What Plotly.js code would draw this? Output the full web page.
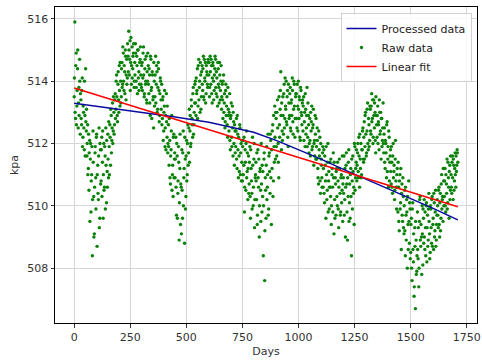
<!DOCTYPE html>
<html>
<head>
<meta charset="utf-8">
<script src="https://cdn.plot.ly/plotly-3.0.1.min.js"></script>
<style>html,body{margin:0;padding:0;background:#fff;}#chart{width:482px;height:360px;}</style>
</head>
<body>
<div id="chart"></div>
<script>
// Raw data in two interleaved passes:
// pass A = days 0,3,6,...  pass B = days 1,4,7,...
const rawStartDayA = 0;
const rawStartDayB = 1;
const rawStepDays = 3;
const rawKpaA = [
513.5,515.9,512.8,514.9,513.2,514.4,512.5,513.8,514.7,512.3,
513.4,512.6,514.1,512.2,513.0,511.8,512.9,514.4,512.4,511.6,
512.6,511.2,510.5,512.1,511.5,509.8,511.0,508.4,512.4,510.3,
509.1,511.7,510.9,512.2,508.7,511.3,510.2,512.5,509.6,511.8,
510.8,512.2,511.4,509.6,512.0,510.6,511.6,512.5,510.1,511.1,
512.3,510.9,511.9,512.6,511.3,512.9,512.1,513.3,512.4,513.0,
512.6,513.6,513.1,514.2,512.9,513.9,513.4,514.5,513.2,514.0,
513.5,514.6,513.9,514.9,513.7,514.3,515.0,513.4,514.7,514.1,
514.8,515.6,514.2,515.3,514.6,513.9,515.1,514.4,514.9,513.8,
514.6,515.2,514.0,514.8,513.6,515.0,514.3,513.9,514.7,514.2,
513.8,514.6,514.1,515.1,513.5,514.4,513.9,514.8,513.3,514.0,
514.5,513.6,514.2,512.9,514.7,513.8,514.3,513.4,512.5,514.0,
513.5,514.8,513.9,514.3,513.1,514.6,513.7,512.9,514.1,513.4,
513.9,512.8,513.5,512.4,513.2,511.9,512.9,513.6,512.2,511.7,
512.6,511.3,512.1,510.7,511.8,512.9,511.0,510.3,512.3,511.5,
510.9,512.2,509.7,511.6,510.4,511.9,508.9,511.2,509.4,510.6,
511.8,509.6,512.4,510.9,508.8,511.5,510.3,512.1,511.0,512.6,
511.7,513.1,512.4,511.9,513.4,512.8,512.2,513.8,512.6,513.3,
514.0,512.9,513.6,514.4,513.2,514.7,513.8,513.0,514.2,513.5,
514.5,513.7,514.8,513.4,514.1,514.6,513.6,514.3,513.9,514.7,
514.2,513.5,514.8,513.9,514.5,513.3,514.6,514.0,513.7,514.4,
514.7,513.6,514.1,513.2,514.4,513.8,514.6,513.4,514.0,513.1,
513.9,512.8,514.2,513.3,512.5,513.7,512.9,513.5,512.2,513.1,
512.4,513.6,511.8,512.9,512.2,513.2,511.6,512.7,511.3,512.4,
511.9,512.8,511.2,512.3,510.9,511.6,512.6,511.0,512.0,511.4,
510.8,512.1,511.3,509.8,511.8,510.5,512.4,511.1,510.2,511.6,
510.7,511.9,509.6,511.2,510.4,512.2,510.0,511.5,509.3,510.9,
511.4,510.2,509.4,511.8,510.6,509.0,511.1,510.5,512.0,509.8,
510.3,508.4,511.5,507.6,510.9,509.6,511.9,510.6,512.3,509.9,
511.7,510.4,512.1,509.4,511.2,512.6,510.8,511.9,513.2,511.5,
512.8,511.6,513.4,512.0,510.9,512.6,513.1,514.3,511.8,512.4,
513.5,512.3,513.9,512.8,513.2,514.0,512.6,513.7,511.9,513.3,
512.9,513.8,512.4,513.4,514.1,512.7,513.1,513.9,512.2,513.5,
513.6,512.5,513.2,514.0,512.8,513.4,512.1,513.7,512.9,513.3,
512.4,513.5,512.7,511.9,513.1,512.5,513.8,512.2,512.9,511.7,
512.8,511.6,512.4,513.2,511.9,512.6,511.3,512.1,512.9,511.5,
511.9,512.5,511.2,510.7,511.8,512.2,510.4,511.5,510.9,511.7,
510.6,511.8,510.1,511.3,509.6,511.0,510.5,512.0,510.8,509.9,
511.4,510.3,509.4,511.0,510.6,511.7,509.1,510.2,510.9,509.7,
511.2,510.0,510.8,509.3,511.5,510.4,509.8,511.0,510.5,509.5,
510.9,511.6,510.2,509.0,511.3,510.7,508.9,510.3,511.8,510.1,
509.6,511.2,508.4,510.8,511.6,510.4,509.4,511.9,510.9,511.4,
510.8,511.7,511.1,512.2,510.6,511.5,512.0,511.0,511.8,512.5,
511.4,512.7,511.9,513.0,511.6,512.4,513.3,511.8,512.6,512.1,
513.1,512.3,513.6,512.8,512.0,513.4,512.5,513.0,511.7,512.9,
512.2,513.2,512.7,511.8,513.0,512.4,511.5,512.8,512.1,513.3,
511.7,512.5,511.2,512.0,510.9,512.7,511.5,510.6,512.2,511.4,
511.8,510.7,511.4,510.4,512.0,511.1,510.2,511.5,510.8,509.9,
511.2,509.8,510.6,509.2,511.0,510.1,508.6,510.7,509.5,510.3,
509.1,510.5,508.4,509.7,510.2,508.0,509.4,510.8,508.8,509.9,
508.5,509.6,507.6,510.1,508.2,507.1,509.3,506.7,508.9,507.9,
509.8,508.3,507.4,509.5,510.3,508.7,509.0,510.0,508.1,509.6,
510.2,508.6,509.3,510.0,508.2,509.7,508.9,510.4,509.1,508.5,
509.9,508.8,510.3,509.4,508.6,510.1,509.2,510.5,508.9,509.7,
510.0,509.3,510.6,509.0,510.4,509.6,511.0,510.2,509.5,510.8,
510.3,511.2,509.8,510.7,511.5,510.1,510.9,509.6,511.3,510.5,
511.0,510.4,511.6,510.2,511.3,510.8,511.7,510.6,511.1,511.8,
511.4
];
const rawKpaB = [
514.1,513.0,514.5,512.6,513.7,515.0,513.3,512.9,514.0,513.6,
512.8,513.7,511.9,513.2,512.5,514.0,511.6,512.7,513.1,512.0,
511.0,512.3,511.7,509.5,512.0,510.8,511.9,510.2,511.4,509.0,
510.6,511.9,509.9,512.3,511.0,510.4,511.6,509.3,512.0,510.7,
511.8,510.3,512.4,511.0,510.5,511.9,509.9,511.3,512.1,510.6,
511.5,512.7,511.0,512.2,513.1,511.7,512.5,512.0,513.5,512.3,
513.4,512.8,514.0,513.5,512.7,514.3,513.0,513.7,514.6,513.3,
514.4,513.8,515.1,514.0,514.5,513.6,514.8,514.2,513.9,515.2,
514.3,515.0,514.7,513.7,515.4,514.5,514.1,514.8,515.2,514.0,
514.2,514.9,513.8,514.5,515.0,514.1,513.7,514.6,515.1,513.9,
514.5,513.7,514.9,514.2,513.6,514.7,514.0,513.4,514.3,514.9,
513.9,514.4,513.3,514.8,513.7,512.8,514.2,513.5,514.6,513.2,
514.2,513.3,514.5,513.0,513.8,514.4,512.7,513.6,514.0,513.1,
512.6,513.4,512.1,513.0,513.7,512.5,511.8,512.7,513.2,512.0,
511.9,512.8,510.9,511.6,512.4,510.5,511.3,512.2,510.9,511.7,
511.5,510.6,512.0,509.6,510.8,511.4,510.1,512.3,510.7,509.1,
510.5,511.7,510.0,511.2,512.2,509.9,511.6,510.8,512.0,511.3,
512.5,511.4,512.9,512.0,513.2,512.6,513.6,512.3,513.0,513.9,
513.3,514.1,513.7,512.8,514.5,513.4,514.0,514.6,513.1,514.3,
513.9,514.4,513.5,514.7,514.0,513.3,514.5,514.2,513.8,514.6,
514.6,513.8,514.3,514.7,513.6,514.1,514.5,513.4,514.2,514.8,
513.8,514.3,513.5,514.6,513.9,513.3,514.2,513.7,514.5,513.5,
513.4,514.0,513.0,513.6,512.7,513.9,513.2,512.6,513.8,512.9,
513.0,512.1,512.8,513.3,511.9,512.5,513.0,512.0,512.6,511.7,
512.4,511.5,512.9,511.8,512.2,511.1,512.5,511.7,510.8,512.1,
511.9,511.0,512.2,510.6,511.4,512.0,510.9,511.7,511.2,510.4,
511.4,510.3,511.8,510.8,509.9,511.3,510.6,512.0,510.2,511.0,
510.8,511.7,509.7,510.9,511.5,510.0,511.2,509.5,510.7,511.3,
511.1,510.0,511.7,509.2,510.5,511.3,510.2,511.0,509.7,511.6,
511.1,512.3,510.9,511.8,512.4,510.3,512.9,511.4,512.2,513.0,
511.9,513.0,512.5,511.4,513.5,512.2,513.7,512.9,513.3,512.1,
512.9,513.6,512.5,514.1,513.1,512.7,513.5,512.2,513.9,512.8,
513.6,512.5,513.3,512.9,513.7,512.3,514.0,513.2,512.8,513.6,
512.8,513.9,512.4,513.1,513.5,512.2,513.8,513.0,512.6,513.4,
513.2,512.1,513.0,513.6,512.3,512.9,511.9,513.3,512.6,512.0,
512.1,513.0,512.7,511.8,512.5,513.1,512.0,511.6,512.3,512.8,
511.5,512.1,510.9,512.4,511.6,510.8,512.0,511.3,510.6,511.9,
511.2,510.4,511.6,510.8,511.9,510.2,511.4,509.8,511.1,510.6,
510.6,511.5,510.0,511.2,509.8,510.9,511.4,509.6,510.7,511.1,
510.3,511.4,509.9,510.6,511.2,509.7,510.9,510.1,511.6,510.7,
510.4,509.7,511.2,510.6,511.7,509.8,510.9,511.4,509.5,510.7,
511.0,510.3,511.5,509.9,511.1,510.6,512.0,510.5,511.2,511.8,
511.3,512.0,510.9,511.6,512.3,511.2,510.9,511.8,512.4,511.5,
512.2,511.5,512.9,512.3,511.7,513.1,512.0,512.8,511.9,513.2,
512.4,513.2,512.7,513.4,512.2,512.9,513.3,512.1,513.5,512.6,
512.9,512.0,512.6,513.4,512.3,513.0,512.8,511.9,512.5,512.0,
512.3,511.4,512.1,511.7,512.6,511.1,511.9,512.4,510.8,511.6,
511.1,511.9,510.6,511.6,510.9,511.3,510.5,512.1,510.6,511.0,
510.6,511.4,509.5,510.8,509.9,511.2,510.4,509.7,510.9,509.3,
510.0,509.2,510.6,508.9,509.8,510.3,508.6,509.5,510.1,508.3,
509.4,508.0,509.9,508.6,509.1,507.4,508.7,509.5,507.8,508.4,
508.6,509.3,508.0,510.2,508.9,509.4,507.8,509.1,509.9,508.8,
509.0,509.8,508.4,510.1,509.3,508.7,509.9,509.5,508.3,510.0,
509.3,510.2,508.7,509.6,510.4,509.0,509.8,508.7,509.4,510.2,
509.7,510.5,509.4,510.1,509.2,510.7,509.9,510.3,511.2,510.0,
510.8,510.0,511.0,510.4,509.9,511.4,510.6,511.1,510.2,511.6,
510.6,511.4,510.9,511.5,510.5,511.2,511.0,511.6,511.3,511.7
];
const rawDaysA = rawKpaA.map((_, i) => rawStartDayA + i * rawStepDays);
const rawDaysB = rawKpaB.map((_, i) => rawStartDayB + i * rawStepDays);

// Processed (smoothed) series
const procDays = [0,150,300,450,600,700,800,900,1000,1100,1200,1300,1400,1500,1600,1710];
const procKpa  = [513.29,513.15,512.99,512.85,512.68,512.53,512.36,512.10,511.80,511.50,511.17,510.85,510.55,510.23,509.92,509.55];

// Linear fit endpoints
const fitDays = [0, 1710];
const fitKpa  = [513.78, 509.97];

const xTicks = [0,250,500,750,1000,1250,1500,1750];
const yTicks = [508,510,512,514,516];

const traces = [
  {x: rawDaysA.concat(rawDaysB), y: rawKpaA.concat(rawKpaB), type: 'scatter', mode: 'markers', name: 'Raw data',
   marker: {color: '#0a820a', size: 3.4}, legendrank: 2},
  {x: procDays, y: procKpa, type: 'scatter', mode: 'lines', name: 'Processed data',
   line: {color: '#0a0aa0', width: 1.5}, legendrank: 1},
  {x: fitDays, y: fitKpa, type: 'scatter', mode: 'lines', name: 'Linear fit',
   line: {color: '#ff0000', width: 1.5}, legendrank: 3}
];

const axisCommon = {
  showline: true, mirror: true, linecolor: '#000', linewidth: 1,
  ticks: 'outside', ticklen: 3.5, tickcolor: '#000', tickwidth: 0.8,
  showgrid: true, gridcolor: '#d6d6d6', gridwidth: 1, zeroline: false,
  tickfont: {family: 'DejaVu Sans', size: 11, color: '#333'}
};

const layout = {
  width: 482, height: 360,
  margin: {l: 55, r: 5, t: 7, b: 37},
  paper_bgcolor: '#fff', plot_bgcolor: '#fff',
  font: {family: 'DejaVu Sans', size: 11, color: '#333'},
  xaxis: Object.assign({}, axisCommon, {
    range: [-85.5, 1795.5], tickvals: xTicks, ticktext: xTicks.map(String),
    title: {text: 'Days', font: {family: 'DejaVu Sans', size: 11, color: '#333'}, standoff: 4}
  }),
  yaxis: Object.assign({}, axisCommon, {
    range: [506.24, 516.38], tickvals: yTicks, ticktext: yTicks.map(String),
    title: {text: 'kpa', font: {family: 'DejaVu Sans', size: 11, color: '#333'}, standoff: 6}
  }),
  showlegend: true,
  legend: {
    x: 0.987, y: 0.981, xanchor: 'right', yanchor: 'top',
    bgcolor: 'rgba(255,255,255,0.85)', bordercolor: '#d0d0d0', borderwidth: 1,
    font: {family: 'DejaVu Sans', size: 11, color: '#222'},
    itemwidth: 30, tracegroupgap: 0
  }
};

Plotly.newPlot('chart', traces, layout, {displayModeBar: false, staticPlot: true});
</script>
</body>
</html>
